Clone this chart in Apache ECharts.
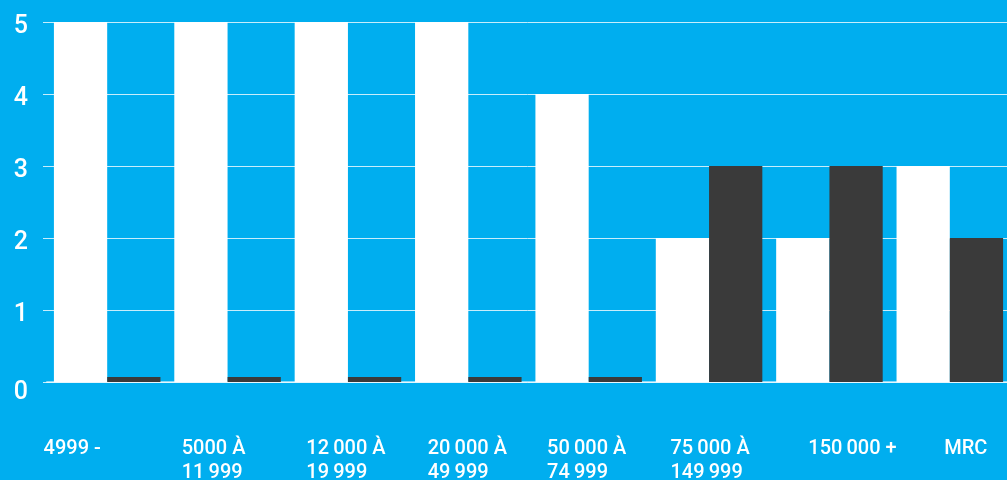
<!DOCTYPE html>
<html>
<head>
<meta charset="utf-8">
<script src="https://cdn.jsdelivr.net/npm/echarts@6/dist/echarts.min.js"></script>
<style>
  html, body { margin: 0; padding: 0; background: #00aeef; }
  #chart { width: 1007px; height: 480px; }
</style>
</head>
<body>
<div id="chart"></div>
<script>
// Revenue brackets (two-line labels where the bracket wraps)
const categories = [
  '4999 -',
  '5000 À\n11\u2009999',
  '12\u2009000 À\n19\u2009999',
  '20\u2009000 À\n49\u2009999',
  '50\u2009000 À\n74\u2009999',
  '75\u2009000 À\n149\u2009999',
  '150\u2009000 +',
  'MRC'
];
const whiteValues = [5, 5, 5, 5, 4, 2, 2, 3];
const darkValues = [0.07, 0.07, 0.07, 0.07, 0.07, 3, 3, 2];
const yTicks = [0, 1, 2, 3, 4, 5];

// Horizontal nudge (px) applied to each category label
const labelNudge = [-35, -14, -2, -1, -2, 1, 23, 16];

const chart = echarts.init(document.getElementById('chart'));

const xData = categories.map((c, i) => {
  const d = labelNudge[i];
  const pad = d >= 0 ? [0, 0, 0, 2 * d] : [0, -2 * d, 0, 0];
  return { value: c, textStyle: { padding: pad } };
});

const gridColor = 'rgba(255,255,255,0.78)';

chart.setOption({
  backgroundColor: '#00aeef',
  animation: false,
  grid: {
    left: 47, top: 22, width: 963, bottom: 98,
    containLabel: false,
    outerBoundsMode: 'none'
  },
  xAxis: {
    type: 'category',
    data: xData,
    axisLine: { show: true, lineStyle: { color: 'rgba(255,255,255,0.55)', width: 2 } },
    axisTick: { show: false },
    axisLabel: {
      interval: 0,
      margin: 55,
      color: '#ffffff',
      fontFamily: 'Roboto',
      fontWeight: 500,
      fontSize: 20,
      lineHeight: 24,
      formatter: v => v.split('\n').map(s => '{l|' + s + '}').join('\n'),
      rich: {
        l: { align: 'left', color: '#ffffff', fontFamily: 'Roboto', fontWeight: 500, fontSize: 20, lineHeight: 24 }
      }
    }
  },
  yAxis: {
    type: 'value',
    min: yTicks[0],
    max: yTicks[yTicks.length - 1],
    interval: 1,
    axisLine: { show: false },
    axisTick: { show: true, length: 4, lineStyle: { color: gridColor, width: 1 } },
    splitLine: { show: true, lineStyle: { color: gridColor, width: 1 } },
    axisLabel: {
      margin: 19,
      color: '#ffffff',
      fontFamily: 'Roboto',
      fontWeight: 500,
      fontSize: 25,
      formatter: v => (v === 0 ? '{z|0}' : '{n|' + v + '}'),
      rich: {
        n: { color: '#ffffff', fontFamily: 'Roboto', fontWeight: 500, fontSize: 25, padding: [10, 0, 0, 0] },
        z: { color: '#ffffff', fontFamily: 'Roboto', fontWeight: 500, fontSize: 25, padding: [22, 0, 0, 0] }
      }
    }
  },
  series: [
    {
      name: 'Blanc',
      type: 'bar',
      data: whiteValues,
      barGap: '0%',
      barCategoryGap: '11.5%',
      itemStyle: { color: '#ffffff' }
    },
    {
      name: 'Gris',
      type: 'bar',
      data: darkValues,
      barGap: '0%',
      barCategoryGap: '11.5%',
      itemStyle: { color: '#3a3a3a' }
    }
  ]
});
</script>
</body>
</html>
